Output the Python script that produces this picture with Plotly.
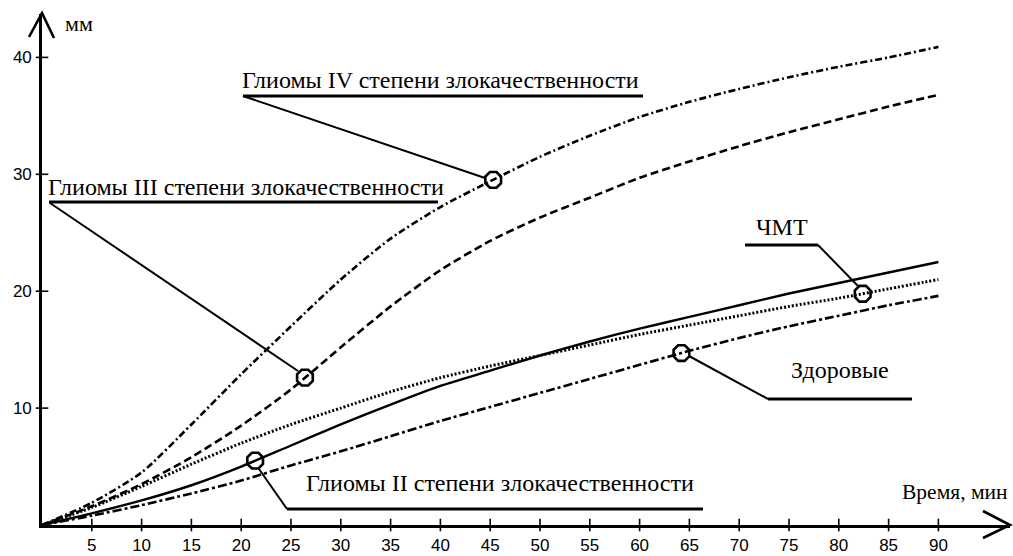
import numpy as np
import plotly.graph_objects as go

# ---------------- data ----------------
time_min = [0, 5, 10, 15, 20, 25, 30, 35, 40, 45, 50, 55, 60, 65, 70, 75, 80, 85, 90]
glioma_iv = [0, 1.9, 4.5, 8.6, 12.9, 17.0, 21.0, 24.5, 27.2, 29.4, 31.5, 33.3, 34.9, 36.2, 37.3, 38.3, 39.2, 40.0, 40.9]
glioma_iii = [0, 1.6, 3.5, 5.8, 8.5, 11.6, 15.2, 18.7, 21.8, 24.3, 26.3, 28.0, 29.7, 31.1, 32.4, 33.6, 34.7, 35.8, 36.8]
glioma_ii = [0, 1.0, 2.1, 3.4, 5.0, 6.8, 8.6, 10.3, 11.9, 13.2, 14.5, 15.7, 16.8, 17.8, 18.8, 19.8, 20.7, 21.6, 22.5]
tbi = [0, 1.5, 3.3, 5.2, 7.0, 8.6, 10.0, 11.4, 12.6, 13.6, 14.5, 15.4, 16.3, 17.1, 17.9, 18.7, 19.4, 20.2, 21.0]
healthy = [0, 0.8, 1.7, 2.7, 3.8, 5.1, 6.3, 7.6, 8.9, 10.1, 11.3, 12.5, 13.7, 14.9, 16.0, 17.0, 17.9, 18.8, 19.6]

x_tick_vals = [5, 10, 15, 20, 25, 30, 35, 40, 45, 50, 55, 60, 65, 70, 75, 80, 85, 90]
y_tick_vals = [10, 20, 30, 40]

label_iv = "Глиомы IV степени злокачественности"
label_iii = "Глиомы III степени злокачественности"
label_ii = "Глиомы II степени злокачественности"
label_tbi = "ЧМТ"
label_healthy = "Здоровые"
y_title = "мм"
x_title = "Время, мин"

# x positions of the circled callout points on each curve
callout_x_iv = 45.3
callout_x_iii = 26.4
callout_x_ii = 21.4
callout_x_tbi = 82.4
callout_x_healthy = 64.2

# ---------------- geometry helpers (layout only) ----------------
W, H = 1013, 556
X0PX, XENDPX = 42, 1010
Y0PX, YTOPPX = 525, 14
XSCALE = 9.96
YSCALE = 11.69


def dx(px):
    return (px - X0PX) / XSCALE


def dy(py):
    return (Y0PX - py) / YSCALE


def pxp(px):
    return (px - X0PX) / (XENDPX - X0PX)


def pyp(py):
    return (Y0PX - py) / (Y0PX - YTOPPX)


SERIF = "Liberation Serif, Times New Roman, serif"
NARROW = "Liberation Sans Narrow, Arial Narrow, Liberation Sans, Arial, sans-serif"

fig = go.Figure()

series = [
    (glioma_iv, "7px,3px,2px,3px", 2.6, label_iv),
    (glioma_iii, "8px,4px", 2.6, label_iii),
    (glioma_ii, "solid", 2.4, label_ii),
    (tbi, "2px,2px", 3.0, label_tbi),
    (healthy, "9px,3px,3px,3px", 2.6, label_healthy),
]
for ys, dash, w, name in series:
    fig.add_trace(go.Scatter(
        x=time_min, y=ys, mode="lines", name=name,
        line=dict(color="black", width=w, dash=dash, shape="spline", smoothing=0.7),
        showlegend=False, hoverinfo="skip", cliponaxis=False,
    ))

# crossing tick marks on the axes
fig.add_trace(go.Scatter(
    x=x_tick_vals, y=[0] * len(x_tick_vals), mode="markers",
    marker=dict(symbol="line-ns", size=9, line=dict(color="black", width=1.6)),
    showlegend=False, hoverinfo="skip", cliponaxis=False,
))
fig.add_trace(go.Scatter(
    x=[0] * len(y_tick_vals), y=y_tick_vals, mode="markers",
    marker=dict(symbol="line-ew", size=9, line=dict(color="black", width=1.6)),
    showlegend=False, hoverinfo="skip", cliponaxis=False,
))

# callout circles
callouts = [
    (callout_x_iv, glioma_iv),
    (callout_x_iii, glioma_iii),
    (callout_x_ii, glioma_ii),
    (callout_x_tbi, tbi),
    (callout_x_healthy, healthy),
]
cx = [c[0] for c in callouts]
cy = [float(np.interp(c[0], time_min, c[1])) for c in callouts]
fig.add_trace(go.Scatter(
    x=cx, y=cy, mode="markers",
    marker=dict(symbol="octagon-open", size=17, color="black", line=dict(width=2.6, color="black")),
    showlegend=False, hoverinfo="skip", cliponaxis=False,
))

shapes = []
annotations = []


def seg(x0, y0, x1, y1, w):
    shapes.append(dict(type="line", xref="x", yref="y", x0=dx(x0), y0=dy(y0), x1=dx(x1), y1=dy(y1),
                       line=dict(color="black", width=w)))


def txt(text, px, py, size=24):
    annotations.append(dict(text=text, x=dx(px), y=dy(py), xref="x", yref="y", xanchor="left",
                            yanchor="middle", showarrow=False,
                            font=dict(family=SERIF, size=size, color="black")))


# Glioma IV
txt(label_iv, 240, 80)
seg(243, 96, 643, 96, 3)
seg(243, 96, 485, 178, 2)
# Glioma III
txt(label_iii, 46, 187)
seg(49, 202, 438, 202, 3)
seg(50, 203, 298, 371, 2)
# Glioma II
txt(label_ii, 304, 483)
seg(287, 509, 703, 509, 3)
seg(259, 469, 287, 509, 2)
# TBI
txt(label_tbi, 754, 227)
seg(745, 245, 818, 245, 3)
seg(818, 245, 858, 286, 2)
# Healthy
txt(label_healthy, 789, 370)
seg(768, 399, 912, 399, 3)
seg(768, 399, 689, 356, 2)

# axis titles
txt(y_title, 63, 23, size=22)
txt(x_title, 900, 492, size=21.5)

# arrowheads (open V)
shapes.append(dict(type="path", xref="paper", yref="paper",
                   path=f"M {pxp(29)} {pyp(37)} L {pxp(42)} {pyp(13)} L {pxp(54)} {pyp(38)}",
                   line=dict(color="black", width=2.6)))
shapes.append(dict(type="path", xref="paper", yref="paper",
                   path=f"M {pxp(983)} {pyp(511)} L {pxp(1010)} {pyp(525)} L {pxp(983)} {pyp(538)}",
                   line=dict(color="black", width=2.6)))

fig.update_layout(
    width=W, height=H,
    margin=dict(l=X0PX, r=W - XENDPX, t=YTOPPX, b=H - Y0PX, autoexpand=False),
    plot_bgcolor="white", paper_bgcolor="white",
    shapes=shapes, annotations=annotations,
    xaxis=dict(range=[0, dx(XENDPX)], showgrid=False, zeroline=False, showline=True,
               linecolor="black", linewidth=2.6, tickvals=x_tick_vals, ticks="outside",
               ticklen=3, tickcolor="rgba(0,0,0,0)", automargin=False,
               tickfont=dict(family=NARROW, size=17, color="black")),
    yaxis=dict(range=[0, dy(YTOPPX)], showgrid=False, zeroline=False, showline=True,
               linecolor="black", linewidth=2.6, tickvals=y_tick_vals, ticks="outside",
               ticklen=4, tickcolor="rgba(0,0,0,0)", automargin=False,
               tickfont=dict(family=NARROW, size=17, color="black")),
)

fig.write_html(
    "out.html",
    config={"displayModeBar": False},
    post_script="document.body.style.margin='0';document.body.style.overflow='hidden';",
)
